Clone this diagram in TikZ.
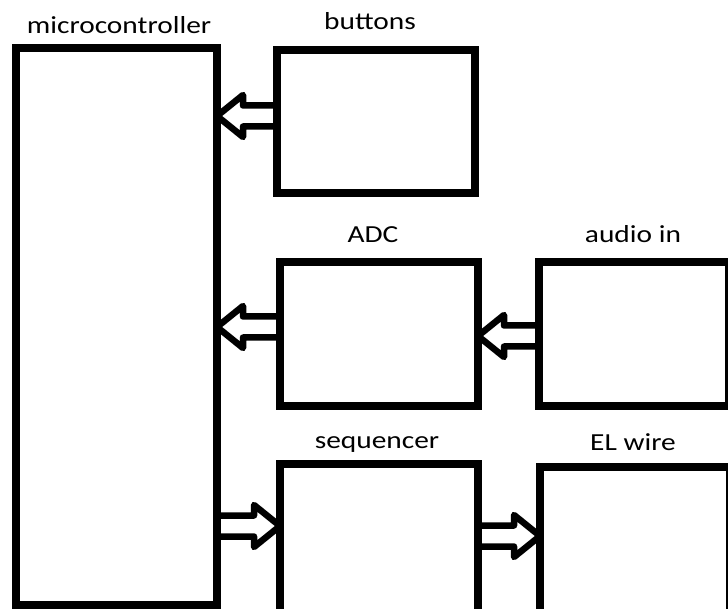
\documentclass[tikz,border=0pt]{standalone}
\usepackage{fontspec}
\setmainfont{Carlito}[FakeStretch=1.2]
\usetikzlibrary{calc}

\tikzset{
  block/.style={draw, rectangle, line width=7.5pt, inner sep=0pt, outer sep=0pt, anchor=north west},
  caption/.style={anchor=base, font=\fontsize{24.5}{28}\selectfont},
  hollow/.style={line width=6.5pt, line join=round}
}

% hollow block arrow: start point, node whose x is the tip
\newcommand{\hollowarrow}[2]{%
  \draw[hollow] let \p1=(#1), \p2=(#2), \n1={ifthenelse(\x2>\x1,1,-1)} in
    (\x1,\y1+10.5pt) -- (\x2-\n1*26pt,\y1+10.5pt) -- (\x2-\n1*26pt,\y1+21pt) -- (\x2,\y1)
    -- (\x2-\n1*26pt,\y1-21pt) -- (\x2-\n1*26pt,\y1-10.5pt) -- (\x1,\y1-10.5pt);}

\begin{document}
\begin{tikzpicture}[x=1pt, y=-1pt]
\useasboundingbox (0,0) rectangle (728,609);
\clip (0,0) rectangle (728,609);

% Define boxes
\node[block, minimum width=201pt, minimum height=557pt] (micro) at (16,48) {};
\node[block, minimum width=198pt, minimum height=143pt] (buttons) at (277,50) {};
\node[block, minimum width=198pt, minimum height=144pt] (adc) at (280,262) {};
\node[block, minimum width=190pt, minimum height=144pt] (audio) at (539,262) {};
\node[block, minimum width=198pt, minimum height=186pt] (sequencer) at (280,464) {};
\node[block, minimum width=190pt, minimum height=183pt] (elwire) at (540,467) {};

% Box captions
\node[caption] (microlabel) at (119,34) {microcontroller};
\node[caption] (buttonslabel) at (370,30) {buttons};
\node[caption] (adclabel) at (373,243) {ADC};
\node[caption] (audiolabel) at (633,243) {audio in};
\node[caption] (sequencerlabel) at (377,448) {sequencer};
\node[caption] (elwirelabel) at (633,450) {EL wire};

% Draw arrows
\hollowarrow{$(buttons.west)+(0,-5.5)$}{micro.east}
\hollowarrow{$(adc.west)+(0,-7)$}{micro.east}
\hollowarrow{$(audio.west)+(0,2)$}{adc.east}
\hollowarrow{$(micro.east |- sequencer.west)+(0,-31)$}{sequencer.west}
\hollowarrow{$(sequencer.east)+(0,-21)$}{elwire.west}

\end{tikzpicture}
\end{document}
